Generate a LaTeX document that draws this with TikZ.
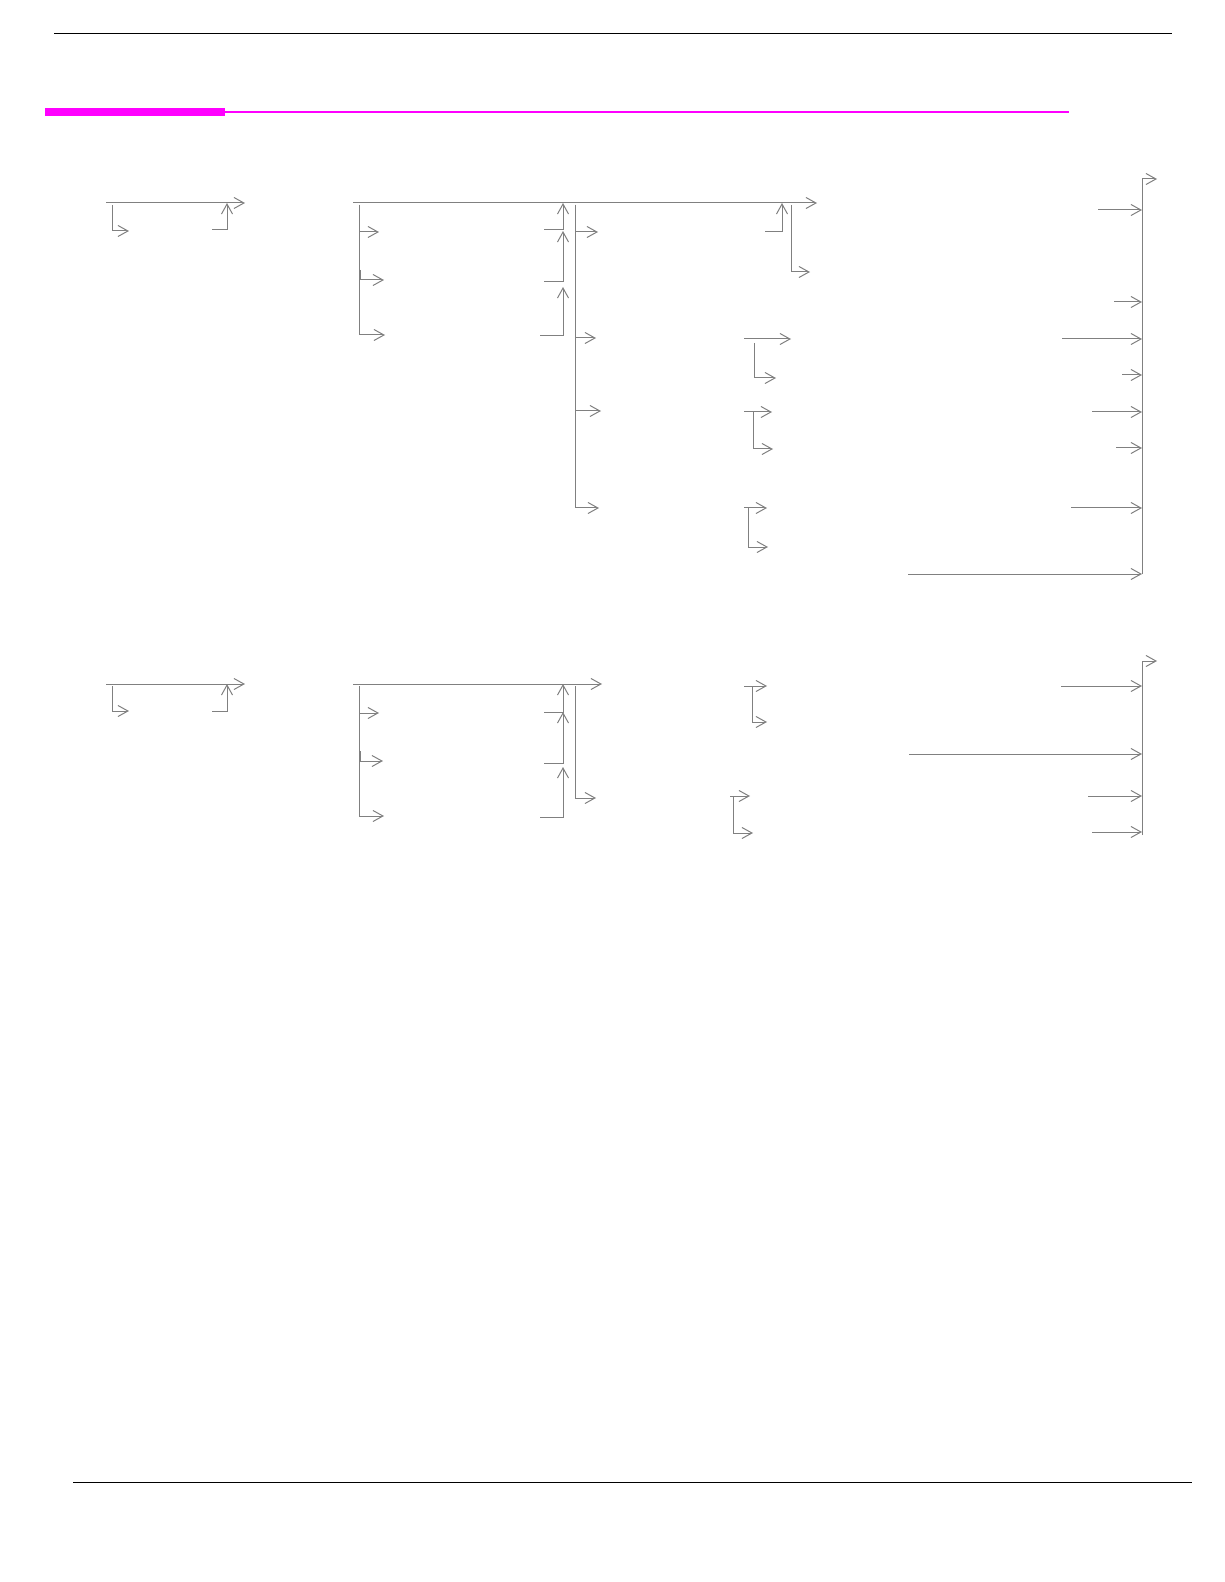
\documentclass[tikz,border=0pt]{standalone}
\usepackage{tikz}
\usetikzlibrary{arrows.meta}
\definecolor{bandpink}{RGB}{255,0,255}

\begin{document}
\begin{tikzpicture}[
    x=0.5pt, y=-0.5pt,
    link/.style={line width=0.5pt, color=gray},
    arrow/.style={link, -{Straight Barb[length=5pt, width=5.5pt]}},
    rule/.style={line width=0.5pt, color=black},
    band/.style={color=bandpink}
]
    \useasboundingbox (0,0) rectangle (1224,1582);

    % Page rules
    \coordinate (rule_tl) at (54,34);
    \coordinate (rule_tr) at (1172,34);
    \coordinate (rule_bl) at (73,1482);
    \coordinate (rule_br) at (1192,1482);
    \coordinate (band_start) at (45,112);
    \coordinate (band_mid) at (225,112);
    \coordinate (band_end) at (1069,112);

    \draw [rule] (rule_tl) -- (rule_tr);
    \draw [rule] (rule_bl) -- (rule_br);
    \draw [band, line width=4pt] (band_start) -- (band_mid);
    \draw [band, line width=1pt] (band_mid) -- (band_end);

    % Upper flow: define points
    \coordinate (up_a_in) at (106,203);
    \coordinate (up_a_out) at (245,203);
    \coordinate (up_a_drop) at (112,205);
    \coordinate (up_a_sub) at (129,231);
    \coordinate (up_a_back) at (212,230);
    \coordinate (up_a_join) at (227,203);

    \coordinate (up_main_in) at (353,203);
    \coordinate (up_main_out) at (817,203);
    \coordinate (up_b_drop) at (359,205);
    \coordinate (up_b_sub1) at (379,232);
    \coordinate (up_b_sub2) at (384,280);
    \coordinate (up_b_sub3) at (385,335);
    \coordinate (up_b_nick) at (360,270);
    \coordinate (up_b_nick_end) at (360,280);
    \coordinate (up_b_back1) at (544,230);
    \coordinate (up_b_join1) at (563,203);
    \coordinate (up_b_back2) at (544,282);
    \coordinate (up_b_join2) at (563,231);
    \coordinate (up_b_back3) at (540,336);
    \coordinate (up_b_join3) at (563,287);

    \coordinate (up_c_drop) at (575,205);
    \coordinate (up_c_sub1) at (598,232);
    \coordinate (up_c_sub2) at (596,338);
    \coordinate (up_c_sub3) at (601,411);
    \coordinate (up_c_sub4) at (599,508);

    \coordinate (up_d_back) at (765,232);
    \coordinate (up_d_join) at (782,203);
    \coordinate (up_d_drop) at (791,205);
    \coordinate (up_d_sub) at (810,272);

    \coordinate (up_e1_in) at (744,339);
    \coordinate (up_e1_out) at (791,339);
    \coordinate (up_e1_drop) at (754,343);
    \coordinate (up_e1_sub) at (776,378);
    \coordinate (up_e2_in) at (744,412);
    \coordinate (up_e2_out) at (772,412);
    \coordinate (up_e2_drop) at (753,412);
    \coordinate (up_e2_sub) at (773,449);
    \coordinate (up_e3_in) at (744,508);
    \coordinate (up_e3_out) at (767,508);
    \coordinate (up_e3_drop) at (748,508);
    \coordinate (up_e3_sub) at (768,547);

    \coordinate (up_bus_foot) at (1142,574);
    \coordinate (up_bus_out) at (1157,179);
    \coordinate (up_f1) at (1098,210);
    \coordinate (up_f1_end) at (1142,210);
    \coordinate (up_f2) at (1114,302);
    \coordinate (up_f2_end) at (1142,302);
    \coordinate (up_f3) at (1062,339);
    \coordinate (up_f3_end) at (1142,339);
    \coordinate (up_f4) at (1122,375);
    \coordinate (up_f4_end) at (1142,375);
    \coordinate (up_f5) at (1092,412);
    \coordinate (up_f5_end) at (1142,412);
    \coordinate (up_f6) at (1116,448);
    \coordinate (up_f6_end) at (1142,448);
    \coordinate (up_f7) at (1071,508);
    \coordinate (up_f7_end) at (1142,508);
    \coordinate (up_f8) at (908,574);
    \coordinate (up_f8_end) at (1142,574);

    % Upper flow: draw connections
    \draw [arrow] (up_a_in) -- (up_a_out);
    \draw [arrow] (up_a_drop) |- (up_a_sub);
    \draw [arrow] (up_a_back) -| (up_a_join);

    \draw [arrow] (up_main_in) -- (up_main_out);
    \draw [arrow] (up_b_drop) |- (up_b_sub1);
    \draw [arrow] (up_b_drop) |- (up_b_sub2);
    \draw [arrow] (up_b_drop) |- (up_b_sub3);
    \draw [link] (up_b_nick) -- (up_b_nick_end);
    \draw [arrow] (up_b_back1) -| (up_b_join1);
    \draw [arrow] (up_b_back2) -| (up_b_join2);
    \draw [arrow] (up_b_back3) -| (up_b_join3);

    \draw [arrow] (up_c_drop) |- (up_c_sub1);
    \draw [arrow] (up_c_drop) |- (up_c_sub2);
    \draw [arrow] (up_c_drop) |- (up_c_sub3);
    \draw [arrow] (up_c_drop) |- (up_c_sub4);

    \draw [arrow] (up_d_back) -| (up_d_join);
    \draw [arrow] (up_d_drop) |- (up_d_sub);

    \draw [arrow] (up_e1_in) -- (up_e1_out);
    \draw [arrow] (up_e1_drop) |- (up_e1_sub);
    \draw [arrow] (up_e2_in) -- (up_e2_out);
    \draw [arrow] (up_e2_drop) |- (up_e2_sub);
    \draw [arrow] (up_e3_in) -- (up_e3_out);
    \draw [arrow] (up_e3_drop) |- (up_e3_sub);

    \draw [arrow] (up_bus_foot) |- (up_bus_out);
    \draw [arrow] (up_f1) -- (up_f1_end);
    \draw [arrow] (up_f2) -- (up_f2_end);
    \draw [arrow] (up_f3) -- (up_f3_end);
    \draw [arrow] (up_f4) -- (up_f4_end);
    \draw [arrow] (up_f5) -- (up_f5_end);
    \draw [arrow] (up_f6) -- (up_f6_end);
    \draw [arrow] (up_f7) -- (up_f7_end);
    \draw [arrow] (up_f8) -- (up_f8_end);

    % Lower flow: define points
    \coordinate (lo_a_in) at (106,684);
    \coordinate (lo_a_out) at (245,684);
    \coordinate (lo_a_drop) at (112,686);
    \coordinate (lo_a_sub) at (129,711);
    \coordinate (lo_a_back) at (212,711);
    \coordinate (lo_a_join) at (227,684);

    \coordinate (lo_main_in) at (353,684);
    \coordinate (lo_main_out) at (602,684);
    \coordinate (lo_b_drop) at (359,686);
    \coordinate (lo_b_sub1) at (379,713);
    \coordinate (lo_b_sub2) at (383,761);
    \coordinate (lo_b_sub3) at (384,816);
    \coordinate (lo_b_nick) at (360,751);
    \coordinate (lo_b_nick_end) at (360,761);
    \coordinate (lo_b_back1) at (544,712);
    \coordinate (lo_b_join1) at (563,684);
    \coordinate (lo_b_back2) at (544,763);
    \coordinate (lo_b_join2) at (563,712);
    \coordinate (lo_b_back3) at (540,817);
    \coordinate (lo_b_join3) at (563,767);
    \coordinate (lo_c_drop) at (575,686);
    \coordinate (lo_c_sub) at (596,798);

    \coordinate (lo_e1_in) at (744,686);
    \coordinate (lo_e1_out) at (767,686);
    \coordinate (lo_e1_drop) at (752,686);
    \coordinate (lo_e1_sub) at (767,722);
    \coordinate (lo_e2_in) at (730,796);
    \coordinate (lo_e2_out) at (750,796);
    \coordinate (lo_e2_drop) at (733,796);
    \coordinate (lo_e2_sub) at (753,833);

    \coordinate (lo_bus_foot) at (1142,835);
    \coordinate (lo_bus_out) at (1157,661);
    \coordinate (lo_f1) at (1061,686);
    \coordinate (lo_f1_end) at (1142,686);
    \coordinate (lo_f2) at (909,754);
    \coordinate (lo_f2_end) at (1142,754);
    \coordinate (lo_f3) at (1088,796);
    \coordinate (lo_f3_end) at (1142,796);
    \coordinate (lo_f4) at (1092,832);
    \coordinate (lo_f4_end) at (1142,832);

    % Lower flow: draw connections
    \draw [arrow] (lo_a_in) -- (lo_a_out);
    \draw [arrow] (lo_a_drop) |- (lo_a_sub);
    \draw [arrow] (lo_a_back) -| (lo_a_join);

    \draw [arrow] (lo_main_in) -- (lo_main_out);
    \draw [arrow] (lo_b_drop) |- (lo_b_sub1);
    \draw [arrow] (lo_b_drop) |- (lo_b_sub2);
    \draw [arrow] (lo_b_drop) |- (lo_b_sub3);
    \draw [link] (lo_b_nick) -- (lo_b_nick_end);
    \draw [arrow] (lo_b_back1) -| (lo_b_join1);
    \draw [arrow] (lo_b_back2) -| (lo_b_join2);
    \draw [arrow] (lo_b_back3) -| (lo_b_join3);
    \draw [arrow] (lo_c_drop) |- (lo_c_sub);

    \draw [arrow] (lo_e1_in) -- (lo_e1_out);
    \draw [arrow] (lo_e1_drop) |- (lo_e1_sub);
    \draw [arrow] (lo_e2_in) -- (lo_e2_out);
    \draw [arrow] (lo_e2_drop) |- (lo_e2_sub);

    \draw [arrow] (lo_bus_foot) |- (lo_bus_out);
    \draw [arrow] (lo_f1) -- (lo_f1_end);
    \draw [arrow] (lo_f2) -- (lo_f2_end);
    \draw [arrow] (lo_f3) -- (lo_f3_end);
    \draw [arrow] (lo_f4) -- (lo_f4_end);

\end{tikzpicture}
\end{document}
